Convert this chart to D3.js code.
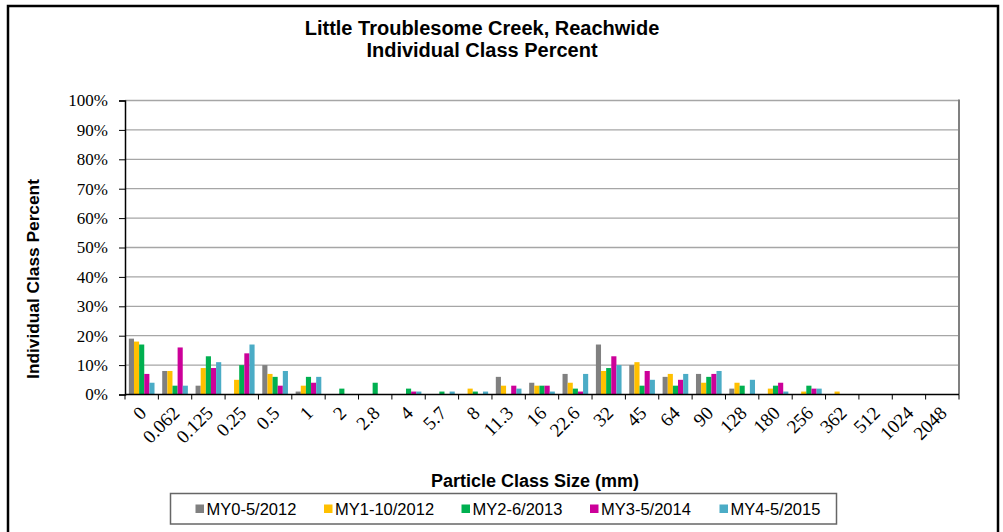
<!DOCTYPE html>
<html><head><meta charset="utf-8">
<script src="https://cdn.jsdelivr.net/npm/d3@7"></script>
<style>
body{margin:0;background:#fff;}
svg{display:block;}
</style></head>
<body>
<svg id="chart" width="1003" height="532"></svg>
<script>
const categories = ["0","0.062","0.125","0.25","0.5","1","2","2.8","4","5.7","8","11.3","16","22.6","32","45","64","90","128","180","256","362","512","1024","2048"];
const seriesNames = ["MY0-5/2012","MY1-10/2012","MY2-6/2013","MY3-5/2014","MY4-5/2015"];
const seriesColors = ["#808080","#FFC000","#00B050","#CC0099","#4BACC6"];
const my0 = [19,8,3,0,10,1,0,0,0,0,0,6,4,7,17,10,6,7,2,0,0,0,0,0,0];
const my1 = [18,8,9,5,7,3,0,0,0,0,2,3,3,4,8,11,7,4,4,2,1,1,0,0,0];
const my2 = [17,3,13,10,6,6,2,4,2,1,1,0,3,2,9,3,3,6,3,3,3,0,0,0,0];
const my3 = [7,16,9,14,3,4,0,0,1,0,0,3,3,1,13,8,5,7,0,4,2,0,0,0,0];
const my4 = [4,3,11,17,8,6,0,0,1,1,1,2,1,7,10,5,7,8,5,1,2,0,0,0,0];
const seriesValues = [my0,my1,my2,my3,my4];
const yTicks = [0,10,20,30,40,50,60,70,80,90,100];

const svg = d3.select("#chart");
const plot = {left:125, right:959, top:100.5, bottom:394.5};

// outer border
svg.append("rect").attr("x",8).attr("y",6).attr("width",990).attr("height",540)
  .attr("fill","#fff").attr("stroke","#000").attr("stroke-width",2.5);

const x0 = d3.scaleBand().domain(categories).range([plot.left, plot.right]).paddingInner(0).paddingOuter(0);
const x1 = d3.scaleBand().domain(seriesNames).range([0, x0.bandwidth()]).paddingInner(0).paddingOuter(0.75);
const y = d3.scaleLinear().domain([0,100]).range([plot.bottom, plot.top]);

// gridlines
svg.append("g").selectAll("line").data(yTicks.filter(d=>d>0)).join("line")
  .attr("x1",plot.left).attr("x2",plot.right)
  .attr("y1",d=>y(d)).attr("y2",d=>y(d))
  .attr("stroke","#a6a6a6").attr("stroke-width",1.3);
// right plot border
svg.append("line").attr("x1",plot.right).attr("x2",plot.right).attr("y1",plot.top-1).attr("y2",plot.bottom)
  .attr("stroke","#808080").attr("stroke-width",2);

// bars
const barsG = svg.append("g");
seriesNames.forEach((s,si)=>{
  barsG.append("g").selectAll("rect").data(categories.map((c,i)=>({c, v:seriesValues[si][i]}))).join("rect")
    .attr("x",d=>x0(d.c)+x1(s))
    .attr("width",x1.bandwidth())
    .attr("y",d=>y(d.v))
    .attr("height",d=>plot.bottom - y(d.v))
    .attr("fill",seriesColors[si]);
});

// y axis
const yAxis = d3.axisLeft(y).tickValues(yTicks).tickFormat(d=>d+"%").tickSize(6).tickPadding(11);
const yg = svg.append("g").attr("transform",`translate(${plot.left},0)`).call(yAxis);
yg.select(".domain").attr("stroke","#000").attr("stroke-width",1.5);
yg.selectAll(".tick line").attr("stroke","#000").attr("stroke-width",1);
yg.selectAll("text").attr("font-family","'Liberation Serif','Times New Roman',serif").attr("font-size","17px").attr("fill","#000");

// x axis (ticks at category boundaries)
const xg = svg.append("g");
xg.append("line").attr("x1",plot.left).attr("x2",plot.right).attr("y1",plot.bottom).attr("y2",plot.bottom)
  .attr("stroke","#000").attr("stroke-width",1.5);
const bounds = categories.map(c=>x0(c)).concat([plot.right]);
xg.selectAll("line.tk").data(bounds).join("line").attr("class","tk")
  .attr("x1",d=>d).attr("x2",d=>d).attr("y1",plot.bottom).attr("y2",plot.bottom+5)
  .attr("stroke","#000").attr("stroke-width",1);
xg.selectAll("text").data(categories).join("text")
  .attr("transform",c=>`translate(${x0(c)+x0.bandwidth()/2+1},${plot.bottom+15}) rotate(-45)`)
  .attr("text-anchor","end").attr("dy","0.35em")
  .attr("font-family","'Liberation Serif','Times New Roman',serif").attr("font-size","19px").attr("fill","#000")
  .text(c=>c);

// titles
const sans = "'Liberation Sans',Arial,sans-serif";
svg.append("text").attr("x",482).attr("y",35).attr("text-anchor","middle")
  .attr("font-family",sans).attr("font-weight","bold").attr("font-size","20px").text("Little Troublesome Creek, Reachwide");
svg.append("text").attr("x",482).attr("y",57).attr("text-anchor","middle")
  .attr("font-family",sans).attr("font-weight","bold").attr("font-size","20px").text("Individual Class Percent");
svg.append("text").attr("x",535).attr("y",487).attr("text-anchor","middle")
  .attr("font-family",sans).attr("font-weight","bold").attr("font-size","18px").text("Particle Class Size (mm)");
svg.append("text").attr("transform","translate(39,279) rotate(-90)").attr("text-anchor","middle")
  .attr("font-family",sans).attr("font-weight","bold").attr("font-size","17.3px").text("Individual Class Percent");

// legend
svg.append("rect").attr("x",170.5).attr("y",493.5).attr("width",666).attr("height",30.5)
  .attr("fill","#fff").attr("stroke","#666").attr("stroke-width",1.5);
const legendX = [195.5,324,461.5,590,719.5];
const lg = svg.append("g").selectAll("g").data(seriesNames).join("g")
  .attr("transform",(d,i)=>`translate(${legendX[i]},0)`);
lg.append("rect").attr("x",0).attr("y",504.5).attr("width",8.5).attr("height",8.5).attr("fill",(d,i)=>seriesColors[i]);
lg.append("text").attr("x",11).attr("y",515).attr("font-family",sans).attr("font-size","16.5px").attr("fill","#000").text(d=>d);
</script>
</body></html>
